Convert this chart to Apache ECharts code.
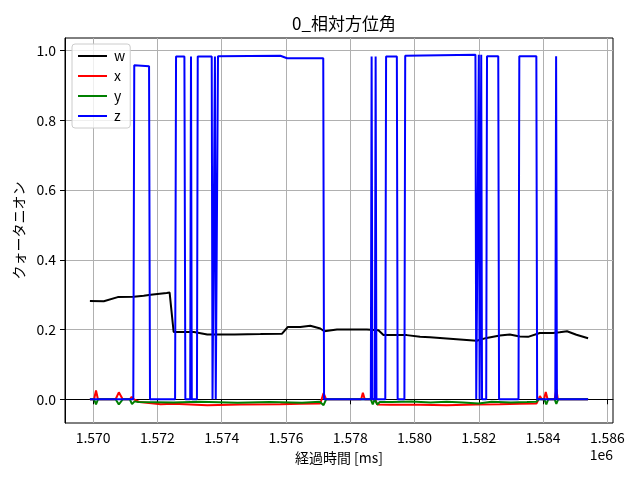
<!DOCTYPE html>
<html>
<head>
<meta charset="utf-8">
<script src="https://cdn.jsdelivr.net/npm/echarts@6/dist/echarts.min.js"></script>
<style>html,body{margin:0;padding:0;background:#fff}#c{width:640px;height:480px}</style>
</head>
<body>
<div id="c"></div>
<script>
const FONT = '"Noto Sans CJK JP", "DejaVu Sans", sans-serif';
const titleText = '0_相対方位角';
const xName = '経過時間 [ms]';
const yName = 'クォータニオン';
const seriesNames = ['w', 'x', 'y', 'z'];
const seriesColors = ['#000000', '#ff0000', '#008000', '#0000ff'];

const wTime = [1569900,1570332,1570767,1571263,1571574,1571791,1572288,1572380,1572505,1573135,1573551,1574400,1575205,1575879,1576053,1576447,1576757,1577068,1577192,1577586,1578517,1578877,1579033,1579759,1580172,1580482,1581205,1581932,1582242,1582655,1582965,1583276,1583533,1583897,1584309,1584517,1584744,1585036,1585400];
const wVal = [0.282,0.281,0.293,0.294,0.297,0.300,0.305,0.306,0.193,0.193,0.186,0.186,0.187,0.188,0.207,0.207,0.211,0.203,0.195,0.200,0.200,0.198,0.1845,0.184,0.179,0.178,0.173,0.168,0.176,0.183,0.186,0.180,0.179,0.190,0.190,0.192,0.195,0.185,0.175];

const xTime = [1569900,1570030,1570090,1570150,1570700,1570800,1570920,1571140,1571200,1571270,1571450,1572100,1572505,1573551,1574585,1575826,1576447,1577068,1577170,1577250,1578340,1578393,1578450,1578780,1578840,1579241,1580172,1581000,1581910,1582655,1583276,1583794,1583860,1583900,1583960,1584030,1584083,1584140,1584360,1584412,1584460,1585400];
const xVal = [0,0,0.025,0,0,0.020,0,0,0.007,0,-0.008,-0.014,-0.013,-0.017,-0.015,-0.014,-0.013,-0.012,0.018,0,0,0.019,0,0,-0.015,-0.016,-0.016,-0.017,-0.015,-0.014,-0.013,-0.012,0,0.009,0,0,0.021,0,0,0.029,0,0];

const yTime = [1569900,1570030,1570090,1570150,1570700,1570800,1570920,1571140,1571210,1571290,1571400,1572500,1573300,1574500,1575500,1576500,1577050,1577170,1577250,1578640,1578700,1578760,1578840,1578920,1579300,1579900,1580500,1581000,1581500,1581990,1582400,1583000,1583500,1583790,1583860,1584040,1584100,1584160,1584360,1584412,1584470,1585400];
const yVal = [0,0,-0.015,0,0,-0.015,0,0,-0.014,-0.006,-0.008,-0.009,-0.007,-0.010,-0.008,-0.010,-0.007,-0.017,0,0,-0.015,0,-0.015,-0.008,-0.008,-0.006,-0.009,-0.007,-0.009,-0.012,-0.007,-0.009,-0.008,-0.007,0,0,-0.015,0,0,-0.013,0,0];

const zTime = [1569900,1571250,1571280,1571740,1571770,1572550,1572580,1572840,1572870,1573020,1573045,1573070,1573230,1573255,1573690,1573715,1573765,1573790,1573815,1573860,1573885,1575826,1576034,1577160,1577185,1578640,1578665,1578690,1578765,1578790,1578815,1579090,1579115,1579450,1579475,1579685,1579710,1581895,1581920,1581975,1582000,1582025,1582050,1582075,1582100,1582230,1582255,1582605,1582630,1583235,1583260,1583790,1583815,1584380,1584405,1584430,1585400];
const zVal = [0,0,0.958,0.955,0,0,0.983,0.983,0,0,0.983,0,0,0.983,0.983,0,0,0.983,0,0,0.984,0.985,0.978,0.978,0,0,0.983,0,0,0.983,0,0,0.983,0.983,0,0,0.985,0.988,0,0,0.988,0,0,0.988,0,0,0.984,0.984,0,0,0.984,0.984,0,0,0.984,0,0];

const times = [wTime, xTime, yTime, zTime];
const vals = [wVal, xVal, yVal, zVal];

function pairs(t, v) { return t.map((ti, i) => [ti, v[i]]); }

const chart = echarts.init(document.getElementById('c'), null, {renderer: 'canvas'});
const axisCommon = {
  axisLine: {show: true, lineStyle: {color: '#000', width: 1}},
  axisTick: {show: true, inside: false, length: 5, lineStyle: {color: '#000', width: 1}},
  splitLine: {show: true, showMinLine: false, showMaxLine: false, lineStyle: {color: '#b0b0b0', width: 1}},
};
chart.setOption({
  animation: false,
  backgroundColor: '#fff',
  title: {
    text: titleText, left: 339, top: 10, textAlign: 'center',
    textStyle: {fontFamily: FONT, fontSize: 17, fontWeight: 'normal', color: '#000'}
  },
  grid: {left: 65, right: 27, top: 38, bottom: 57, containLabel: false,
         show: true, borderColor: '#000', borderWidth: 1, backgroundColor: 'transparent'},
  legend: {
    orient: 'vertical', left: 72, top: 44,
    data: seriesNames,
    itemWidth: 29, itemHeight: 14, itemGap: 6,
    padding: [5, 5, 5, 5],
    itemStyle: {opacity: 0},
    backgroundColor: 'rgba(255,255,255,0.8)', borderColor: '#cccccc', borderWidth: 1, borderRadius: 3,
    textStyle: {fontFamily: FONT, fontSize: 14, color: '#000', lineHeight: 14, padding: [0, 0, 0, 2]}
  },
  xAxis: Object.assign({}, axisCommon, {
    type: 'value', min: 1569125, max: 1586175, splitNumber: 8,
    name: xName, nameLocation: 'middle', nameGap: 28,
    nameTextStyle: {fontFamily: FONT, fontSize: 14, color: '#000'},
    axisLabel: {fontFamily: FONT, fontSize: 14, color: '#000', margin: 8,
                showMinLabel: false, showMaxLabel: false,
                formatter: v => (v / 1e6).toFixed(3)}
  }),
  yAxis: Object.assign({}, axisCommon, {
    type: 'value', min: -0.068, max: 1.036, splitNumber: 5,
    name: yName, nameLocation: 'middle', nameGap: 38, nameRotate: 90,
    nameTextStyle: {fontFamily: FONT, fontSize: 14, color: '#000'},
    axisLabel: {fontFamily: FONT, fontSize: 14, color: '#000', margin: 9,
                showMinLabel: false, showMaxLabel: false,
                formatter: v => Math.abs(v) < 1e-9 ? '0.0' : v.toFixed(1)}
  }),
  graphic: [{
    type: 'text', right: 27, top: 448,
    style: {text: '1e6', fontFamily: FONT, fontSize: 14, fill: '#000'}
  }],
  series: seriesNames.map((n, i) => ({
    name: n, type: 'line', data: pairs(times[i], vals[i]),
    showSymbol: false, symbol: 'none', color: seriesColors[i],
    lineStyle: {color: seriesColors[i], width: 2},
    emphasis: {disabled: true}
  }))
});
</script>
</body>
</html>
